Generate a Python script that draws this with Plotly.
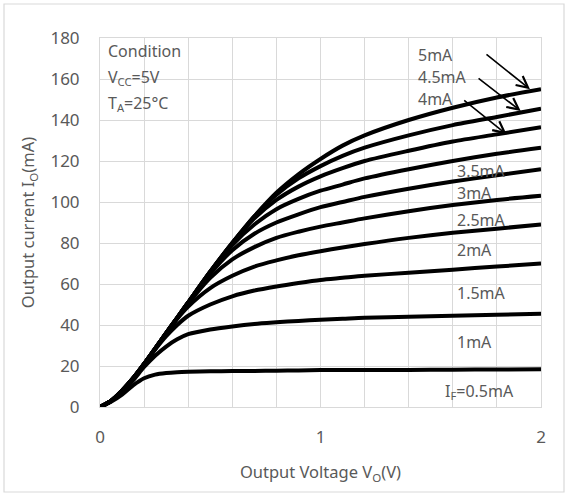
import plotly.graph_objects as go

V = [0, 0.05, 0.1, 0.15, 0.2, 0.25, 0.3, 0.35, 0.4, 0.5, 0.6, 0.7, 0.8, 0.9, 1.0, 1.1, 1.2, 1.4, 1.6, 1.8, 2.0]

I_05 = [0, 2.5, 6, 10.5, 14, 15.8, 16.6, 17, 17.2, 17.4, 17.5, 17.6, 17.7, 17.8, 18, 18, 18, 18.1, 18.2, 18.3, 18.4]
I_10 = [0, 3, 7.5, 13, 19.5, 25, 29.5, 33, 35.5, 37.8, 39.3, 40.5, 41.3, 42, 42.5, 43, 43.5, 44, 44.5, 45, 45.5]
I_15 = [0, 3, 8, 14, 21, 28, 34.5, 40, 44.5, 50, 54, 56.8, 58.8, 60.5, 62, 63, 64, 65.5, 67, 68.5, 70]
I_20 = [0, 3, 8, 14, 21, 28.5, 36, 43, 49, 58, 64, 68.5, 71.5, 74, 76, 77.8, 79.5, 82.5, 85, 87, 89]
I_25 = [0, 3, 8, 14, 21, 28.5, 36, 43.5, 50.5, 63, 72, 78, 82.5, 85.5, 88, 90, 92, 95.5, 98.5, 101, 103]
I_30 = [0, 3, 8, 14, 21, 28.5, 36, 43.5, 51, 65, 76.5, 84.5, 90, 94, 97.5, 100, 102.5, 106.5, 110, 113, 116]
I_35 = [0, 3, 8, 14, 21, 28.5, 36, 43.5, 51, 66, 79, 89, 96.5, 101.5, 105.5, 108.5, 111.5, 116, 120, 123.5, 126.5]
I_40 = [0, 3, 8, 14, 21, 28.5, 36, 43.5, 51, 66, 80, 92, 101, 107.5, 112.5, 116.5, 120, 125, 129.5, 133, 136.5]
I_45 = [0, 3, 8, 14, 21, 28.5, 36, 43.5, 51, 66, 80, 93, 103.5, 111.5, 117.5, 122.5, 126.5, 132.5, 137.5, 141.5, 145.5]
I_50 = [0, 3, 8, 14, 21, 28.5, 36, 43.5, 51, 66, 80, 93, 104.5, 113.5, 121, 127.5, 132.5, 140, 146, 151, 155]

series = [I_05, I_10, I_15, I_20, I_25, I_30, I_35, I_40, I_45, I_50]

# Right-side labels
label_text = ["3.5mA", "3mA", "2.5mA", "2mA", "1.5mA", "1mA", "I<sub>F</sub>=0.5mA"]
label_x = [1.609, 1.609, 1.609, 1.609, 1.609, 1.609, 1.555]
label_y = [115, 104.6, 91.4, 76.8, 55.7, 31.9, 7.5]

# Arrow labels
arrow_text = ["5mA", "4.5mA", "4mA"]
arrow_tx = [1.435, 1.435, 1.435]
arrow_ty = [171.6, 160.9, 150.1]
arrow_x0 = [1.746, 1.710, 1.645]
arrow_y0 = [172.6, 160.9, 150.1]
arrow_x1 = [1.950, 1.908, 1.844]
arrow_y1 = [155.0, 144.4, 133.0]

cond_text = ["Condition", "V<sub>CC</sub>=5V", "T<sub>A</sub>=25°C"]
cond_y = [173.6, 160.9, 148.2]

FONT = "Noto Sans"
TXT = "#595959"
GRID = "#d9d9d9"

fig = go.Figure()
for s in series:
    fig.add_trace(go.Scatter(x=V, y=s, mode="lines",
                             line=dict(color="black", width=4, shape="spline", smoothing=0.8),
                             showlegend=False, hoverinfo="skip"))

for t, x, y in zip(label_text, label_x, label_y):
    fig.add_annotation(x=x, y=y, text=t, showarrow=False, xanchor="left", yanchor="middle",
                       font=dict(family=FONT, size=16, color=TXT))

for t, tx, ty, x0, y0, x1, y1 in zip(arrow_text, arrow_tx, arrow_ty, arrow_x0, arrow_y0, arrow_x1, arrow_y1):
    fig.add_annotation(x=tx, y=ty, text=t, showarrow=False, xanchor="left", yanchor="middle",
                       font=dict(family=FONT, size=16, color=TXT))
    fig.add_annotation(x=x1, y=y1, ax=x0, ay=y0, xref="x", yref="y", axref="x", ayref="y",
                       text="", showarrow=True, arrowhead=5, arrowsize=1.4, arrowwidth=1.6,
                       arrowcolor="black")

for t, y in zip(cond_text, cond_y):
    fig.add_annotation(x=0.027, y=y, text=t, showarrow=False, xanchor="left", yanchor="middle",
                       font=dict(family=FONT, size=16, color=TXT))

# outer chart border
fig.add_shape(type="rect", xref="paper", yref="paper",
              x0=(4 - 100) / 441, x1=(564 - 100) / 441,
              y0=(407 - 492) / 369, y1=(407 - 4) / 369,
              line=dict(color=GRID, width=1.2), layer="below")

xt = [round(i * 0.2, 1) for i in range(11)]
xl = ["0", "", "", "", "", "1", "", "", "", "", "2"]

fig.update_layout(
    width=567, height=494,
    margin=dict(l=100, r=26, t=38, b=87),
    paper_bgcolor="white", plot_bgcolor="white",
    font=dict(family=FONT, size=17, color=TXT),
    xaxis=dict(range=[0, 2], tickvals=xt, ticktext=xl, showgrid=True, gridcolor=GRID, gridwidth=1,
               showline=True, linecolor=GRID, mirror=True, zeroline=False, ticks="",
               ticklabelstandoff=15,
               title=dict(text="Output Voltage V<sub>O</sub>(V)", standoff=19,
                          font=dict(family=FONT, size=16.5, color=TXT)),
               tickfont=dict(family=FONT, size=17, color=TXT)),
    yaxis=dict(range=[0, 180], dtick=20, showgrid=True, gridcolor=GRID, gridwidth=1,
               showline=True, linecolor=GRID, mirror=True, zeroline=False, ticks="",
               ticklabelstandoff=16,
               title=dict(text="Output current I<sub>O</sub>(mA)", standoff=11,
                          font=dict(family=FONT, size=16.5, color=TXT)),
               tickfont=dict(family=FONT, size=17, color=TXT)),
)

fig.write_html("out.html", config={"displayModeBar": False},
               post_script="document.body.style.margin='0';")
